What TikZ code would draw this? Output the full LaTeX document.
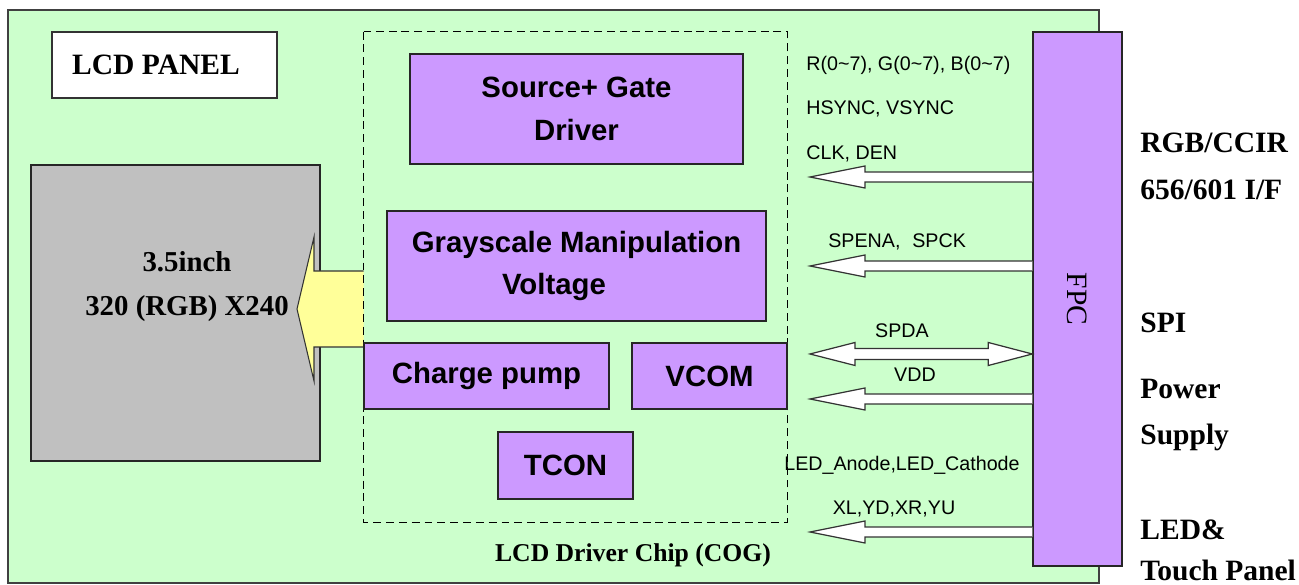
\documentclass[tikz,border=0pt]{standalone}
\usepackage{fontspec}
\setmainfont{Liberation Serif}
\setsansfont{Liberation Sans}
\usepackage{tikz}
\usetikzlibrary{positioning, calc}

\definecolor{boardgreen}{HTML}{CCFFCC}
\definecolor{chipviolet}{HTML}{CC99FF}
\definecolor{panelgray}{HTML}{C0C0C0}
\definecolor{lightyellow}{HTML}{FFFF99}

\tikzstyle{blockbox} = [draw=black!85, fill=chipviolet, line width=0.8pt, inner sep=0pt, align=center, font=\sffamily\bfseries\fontsize{16.7}{24.4}\selectfont]
\tikzstyle{sig} = [draw=black!80, fill=white, line width=0.7pt]
\tikzstyle{siglabel} = [inner sep=0pt, font=\sffamily\fontsize{11.2}{13}\selectfont]
\tikzstyle{sidelabel} = [anchor=base west, inner sep=0pt, font=\bfseries\fontsize{16.8}{20}\selectfont]

% hollow arrow from the FPC (#2) to the tip #1
\newcommand{\hollowarrow}[2]{%
  \draw[sig] ($(#1 -| #2.west)+(0,0.1)$) -- ($(#1)+(1.1,0.1)$) -- ($(#1)+(1.1,0.22)$) -- (#1)
    -- ($(#1)+(1.1,-0.22)$) -- ($(#1)+(1.1,-0.1)$) -- ($(#1 -| #2.west)+(0,-0.1)$);}

\begin{document}
\begin{tikzpicture}
\useasboundingbox (0,0) rectangle (25.98,11.70);

% Board
\node[draw=black!75, line width=1pt, fill=boardgreen, minimum width=21.82cm, minimum height=11.46cm] (board) at (11.07,5.77) {};

% LCD panel
\node[draw=black!80, line width=0.8pt, fill=white, minimum width=4.5cm, minimum height=1.32cm] (lcdtitle) at (3.29,10.40) {};
\node[font=\bfseries\fontsize{16.8}{20}\selectfont] (lcdtext) at (3.12,10.40) {LCD PANEL};
\node[draw=black!85, line width=0.8pt, fill=panelgray, minimum width=5.78cm, minimum height=5.92cm] (panel) at (3.51,5.44) {};
\node[align=center, font=\bfseries\fontsize{16.4}{25}\selectfont] (panelres) at (3.74,5.96) {3.5inch\\320 (RGB) X240};

% Driver chip
\node[minimum width=8.46cm, minimum height=9.80cm] (chip) at (11.51,6.16) {};
\coordinate (panin) at (5.94,5.52);
\draw[draw=black!80, fill=lightyellow, line width=0.6pt] ($(chip.west |- panin)+(0,0.76)$) -- ($(panin)+(0.34,0.76)$) -- ($(panin)+(0.34,1.44)$) -- (panin)
  -- ($(panin)+(0.34,-1.44)$) -- ($(panin)+(0.34,-0.76)$) -- ($(chip.west |- panin)+(0,-0.76)$);
\draw[line width=0.9pt, dash pattern=on 4.5pt off 2.8pt] (chip.north west) rectangle (chip.south east);

\node[blockbox, minimum width=6.66cm, minimum height=2.2cm] (srcgate) at (11.53,9.52) {Source+ Gate\\Driver};
\node[blockbox, minimum width=7.58cm, minimum height=2.2cm] (grayvolt) at (11.53,6.38) {Grayscale Manipulation\\Voltage\hspace*{0.9cm}};
\node[blockbox, minimum width=4.9cm, minimum height=1.32cm] (pump) at (9.73,4.18) {Charge pump};
\node[blockbox, minimum width=3.1cm, minimum height=1.32cm] (vcom) at (14.19,4.18) {VCOM};
\node[blockbox, minimum width=2.7cm, minimum height=1.34cm] (tcon) at (11.31,2.39) {TCON};
\node[font=\bfseries\fontsize{14.6}{17}\selectfont] (coglabel) at (12.66,0.60) {LCD Driver Chip (COG)};

% FPC
\node[draw=black!85, line width=0.8pt, fill=chipviolet, minimum width=1.78cm, minimum height=10.68cm] (fpc) at (21.55,5.72) {};
\node[rotate=-90, font=\fontsize{16.8}{20}\selectfont] (fpclabel) at (fpc.center) {FPC};

% Signals
\coordinate (clkend) at (16.20,8.16);
\coordinate (spiend) at (16.20,6.38);
\coordinate (spdaend) at (16.20,4.62);
\coordinate (vddend) at (16.20,3.72);
\coordinate (touchend) at (16.20,1.06);

\hollowarrow{clkend}{fpc}
\hollowarrow{spiend}{fpc}
\hollowarrow{vddend}{fpc}
\hollowarrow{touchend}{fpc}
\draw[sig] (spdaend) -- ++(0.9,0.23) -- ++(0,-0.12) -- ($(spdaend -| fpc.west)+(-0.88,0.11)$) -- ++(0,0.12) -- (spdaend -| fpc.west)
  -- ++(-0.88,-0.23) -- ++(0,0.12) -- ($(spdaend)+(0.9,-0.11)$) -- ++(0,-0.12) -- cycle;

\node[siglabel, anchor=base west] (rgbsig) at (16.12,10.28) {R(0\textasciitilde7), G(0\textasciitilde7), B(0\textasciitilde7)};
\node[siglabel, anchor=base west] (syncsig) at (16.12,9.40) {HSYNC, VSYNC};
\node[siglabel, anchor=base west] (clksig) at (16.12,8.50) {CLK, DEN};
\node[siglabel, anchor=base west] (spisig) at (16.56,6.74) {SPENA,\hspace{0.6em}SPCK};
\node[siglabel, anchor=base] (spdasig) at (18.04,4.94) {SPDA};
\node[siglabel, anchor=base] (vddsig) at (18.30,4.06) {VDD};
\node[siglabel, anchor=base] (ledsig) at (18.04,2.28) {LED\_Anode,LED\_Cathode};
\node[siglabel, anchor=base] (touchsig) at (17.88,1.40) {XL,YD,XR,YU};

% Interface names
\node[sidelabel] (rgbif) at (22.80,8.64) {RGB/CCIR};
\node[sidelabel] (ccirif) at (22.80,7.70) {656/601 I/F};
\node[sidelabel] (spiif) at (22.80,5.04) {SPI};
\node[sidelabel] (powerif) at (22.80,3.72) {Power};
\node[sidelabel] (supplyif) at (22.80,2.80) {Supply};
\node[sidelabel] (ledif) at (22.80,0.90) {LED\&};
\node[sidelabel] (touchif) at (22.80,0.08) {Touch Panel};
\end{tikzpicture}
\end{document}
